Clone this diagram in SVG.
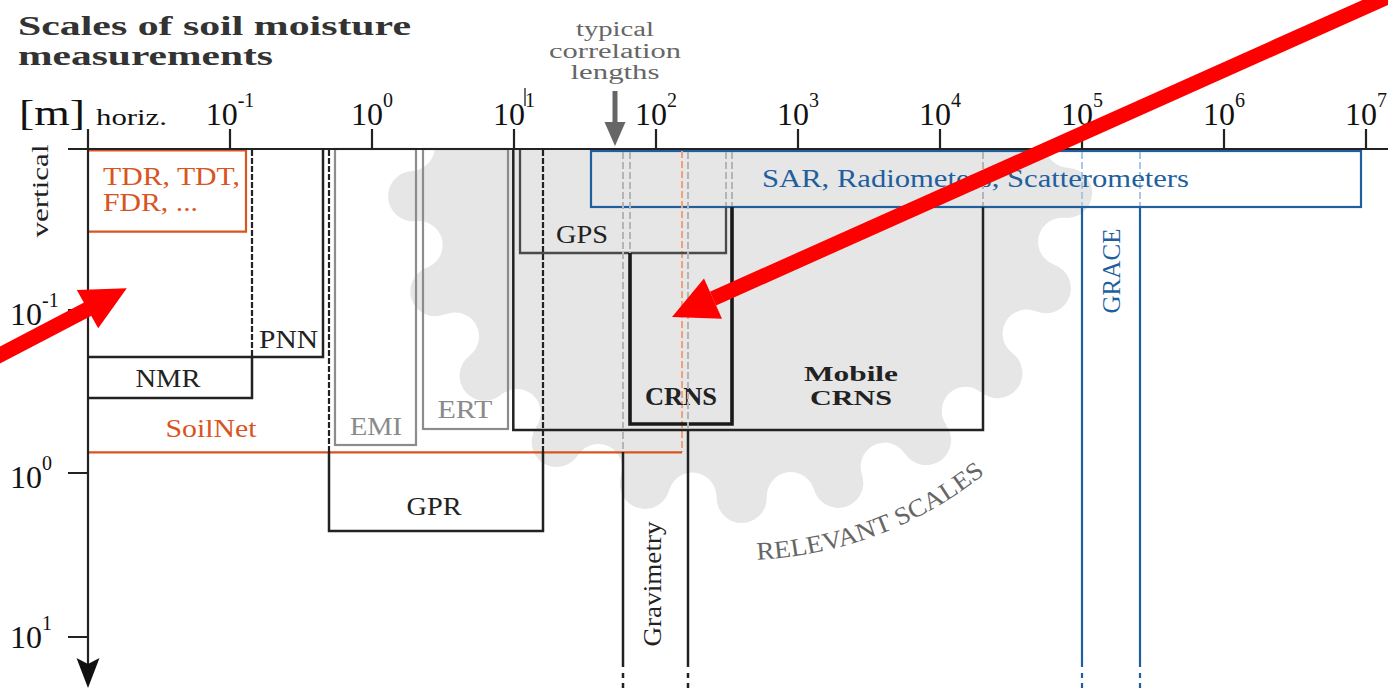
<svg xmlns="http://www.w3.org/2000/svg" width="1388" height="688" viewBox="0 0 1388 688">
<defs>
<style>
text{font-family:"Liberation Serif","Times New Roman",serif;}
.ax{stroke:#222;stroke-width:2.2;fill:none}
.bk{stroke:#222;stroke-width:2.5;fill:none}
.bkd{stroke:#222;stroke-width:2.2;fill:none;stroke-dasharray:6 2}
.th{stroke:#1a1a1a;stroke-width:3.6;fill:none}
.gb{stroke:#8c8c8c;stroke-width:2.2;fill:none}
.gps{stroke:#4a4a4a;stroke-width:2.3;fill:none}
.ld{stroke:#b4b4b4;stroke-width:2;fill:none;stroke-dasharray:7 3}
.ldo{stroke:#f2a07a;stroke-width:2;fill:none;stroke-dasharray:7 3}
.ldb{stroke:#a9c6e3;stroke-width:2;fill:none;stroke-dasharray:7 3}
.or{stroke:#d9541e;stroke-width:2.2;fill:none}
.bl{stroke:#1f5f9e;stroke-width:2.2;fill:none}
.t{font-size:25px;fill:#222}
.tbold{font-size:25px;fill:#222;font-weight:bold}
.tmob{font-size:21px;fill:#222;font-weight:bold}
.to{font-size:25px;fill:#d9541e}
.tg{font-size:25px;fill:#8a8a8a}
.tb{font-size:25px;fill:#1f5f9e}
.tick{font-size:32px;fill:#111}
.sup{font-size:20px}
.red{stroke:#ff0000;stroke-width:15;fill:none}
</style>
<clipPath id="clipBelowAxis"><rect x="0" y="150" width="1388" height="538"/></clipPath>
<circle id="lobe" cx="1068" cy="170" r="25"/>
<circle id="notch" cx="1070" cy="170" r="24"/>
<path id="arcText" d="M757,559.6 A390,390 0 0 0 1015.8,445.8" fill="none"/>
</defs>
<rect x="0" y="0" width="1388" height="688" fill="#fff"/>

<g id="relevant-scales" clip-path="url(#clipBelowAxis)" fill="#e6e6e6">
<circle cx="740" cy="170" r="328"/>
<use href="#lobe" transform="rotate(4 740 170)"/>
<use href="#lobe" transform="rotate(21.14 740 170)"/>
<use href="#lobe" transform="rotate(38.29 740 170)"/>
<use href="#lobe" transform="rotate(55.43 740 170)"/>
<use href="#lobe" transform="rotate(72.57 740 170)"/>
<use href="#lobe" transform="rotate(89.71 740 170)"/>
<use href="#lobe" transform="rotate(106.86 740 170)"/>
<use href="#lobe" transform="rotate(124 740 170)"/>
<use href="#lobe" transform="rotate(141.14 740 170)"/>
<use href="#lobe" transform="rotate(158.29 740 170)"/>
<use href="#lobe" transform="rotate(175.43 740 170)"/>
<g fill="#fff">
<use href="#notch" transform="rotate(-4.57 740 170)"/>
<use href="#notch" transform="rotate(12.57 740 170)"/>
<use href="#notch" transform="rotate(29.71 740 170)"/>
<use href="#notch" transform="rotate(46.86 740 170)"/>
<use href="#notch" transform="rotate(64 740 170)"/>
<use href="#notch" transform="rotate(81.14 740 170)"/>
<use href="#notch" transform="rotate(98.29 740 170)"/>
<use href="#notch" transform="rotate(115.43 740 170)"/>
<use href="#notch" transform="rotate(132.57 740 170)"/>
<use href="#notch" transform="rotate(149.71 740 170)"/>
<use href="#notch" transform="rotate(166.86 740 170)"/>
<use href="#notch" transform="rotate(184 740 170)"/>
</g>
</g>
<text id="relevant-scales-label" font-size="25" fill="#666"><textPath href="#arcText" textLength="248" lengthAdjust="spacingAndGlyphs">RELEVANT SCALES</textPath></text>

<g id="sar">
<rect class="bl" x="591" y="151" width="770" height="56"/>
<path class="ldb" d="M1082,152V206 M1140,152V206"/>
<text class="tb" x="762" y="187" textLength="427" lengthAdjust="spacingAndGlyphs">SAR, Radiometers, Scatterometers</text>
</g>

<g id="tdr">
<path class="or" d="M88,150.5H246V231.6H88"/>
<text class="to" x="103" y="185" textLength="137" lengthAdjust="spacingAndGlyphs">TDR, TDT,</text>
<text class="to" x="103" y="211" textLength="95" lengthAdjust="spacingAndGlyphs">FDR, ...</text>
</g>

<g id="pnn">
<path class="bkd" d="M252,150V357"/>
<path class="bk" d="M252,357H323V149"/>
<text class="t" x="288.5" y="348" text-anchor="middle" textLength="59" lengthAdjust="spacingAndGlyphs">PNN</text>
</g>

<g id="nmr">
<path class="bk" d="M88,357H252V398H88"/>
<text class="t" x="168" y="387" text-anchor="middle" textLength="65" lengthAdjust="spacingAndGlyphs">NMR</text>
</g>

<g id="soilnet">
<path class="ldo" d="M682,151V452"/>
<path class="or" d="M88,452.3H682"/>
<text class="to" x="211" y="437" text-anchor="middle" textLength="91" lengthAdjust="spacingAndGlyphs">SoilNet</text>
</g>

<g id="gpr">
<path class="bkd" d="M329,150V452 M543,150V452"/>
<path class="bk" d="M329,452V531H543V452"/>
<text class="t" x="434" y="515" text-anchor="middle" textLength="55" lengthAdjust="spacingAndGlyphs">GPR</text>
</g>

<g id="emi">
<rect class="gb" x="335" y="149" width="81" height="296"/>
<text class="tg" x="376" y="435" text-anchor="middle" textLength="52" lengthAdjust="spacingAndGlyphs">EMI</text>
</g>

<g id="ert">
<rect class="gb" x="423" y="149" width="85" height="280"/>
<text class="tg" x="465" y="418" text-anchor="middle" textLength="55" lengthAdjust="spacingAndGlyphs">ERT</text>
</g>

<g id="mobile-crns">
<path class="bk" d="M983,207V430H513.3V149"/>
<path class="ld" d="M983,152V206"/>
<text class="tmob" x="851" y="381" text-anchor="middle" textLength="94" lengthAdjust="spacingAndGlyphs">Mobile</text>
<text class="tmob" x="851" y="405" text-anchor="middle" textLength="82" lengthAdjust="spacingAndGlyphs">CRNS</text>
</g>

<g id="gps">
<path class="gps" d="M520,149V253H726V207"/>
<path class="ld" d="M726,152V206"/>
<text class="t" x="582" y="243" text-anchor="middle" textLength="52" lengthAdjust="spacingAndGlyphs">GPS</text>
</g>

<g id="crns">
<path class="ld" d="M630,152V253 M732,152V206"/>
<path class="th" d="M630,253V424H732V207"/>
<text class="tbold" x="681" y="405" text-anchor="middle" textLength="72" lengthAdjust="spacingAndGlyphs">CRNS</text>
</g>

<g id="gravimetry">
<path class="ld" d="M623,152V452 M688,152V430"/>
<path class="bk" d="M623,452V667 M688,430V667 M623,673V678 M623,683V688 M688,673V678 M688,683V688"/>
<text class="t" transform="translate(661,584) rotate(-90)" text-anchor="middle" textLength="125" lengthAdjust="spacingAndGlyphs">Gravimetry</text>
</g>

<g id="grace">
<path class="bl" d="M1082,207V667 M1140,207V667 M1082,673V678 M1082,683V688 M1140,673V678 M1140,683V688"/>
<text class="tb" transform="translate(1120,271) rotate(-90)" text-anchor="middle" textLength="85" lengthAdjust="spacingAndGlyphs">GRACE</text>
</g>

<g id="axes">
<line class="ax" x1="68" y1="149" x2="1388" y2="149"/>
<line class="ax" x1="88" y1="129" x2="88" y2="668"/>
<path d="M76.5,658 L88,664 L99.5,658 L88,688 Z" fill="#111"/>
<path class="ax" d="M230,129V149 M372,129V149 M514,129V149 M656,129V149 M798,129V149 M940,129V149 M1082,129V149 M1224,129V149 M1366,129V149 M68,310H88 M68,473H88 M68,637H88"/>
<line x1="525" y1="88" x2="525" y2="106" stroke="#222" stroke-width="1.3"/>
<text x="19" y="125" font-size="36" fill="#111" textLength="66" lengthAdjust="spacingAndGlyphs">[m]</text>
<text x="96" y="125" font-size="24" fill="#111" textLength="71" lengthAdjust="spacingAndGlyphs">horiz.</text>
<text transform="translate(48,191) rotate(-90)" text-anchor="middle" font-size="24" fill="#222" textLength="93" lengthAdjust="spacingAndGlyphs">vertical</text>
<text class="tick" x="230" y="125" text-anchor="middle">10<tspan class="sup" dy="-18">-1</tspan></text>
<text class="tick" x="372" y="125" text-anchor="middle">10<tspan class="sup" dy="-18">0</tspan></text>
<text class="tick" x="514" y="125" text-anchor="middle">10<tspan class="sup" dy="-18">1</tspan></text>
<text class="tick" x="656" y="125" text-anchor="middle">10<tspan class="sup" dy="-18">2</tspan></text>
<text class="tick" x="798" y="125" text-anchor="middle">10<tspan class="sup" dy="-18">3</tspan></text>
<text class="tick" x="940" y="125" text-anchor="middle">10<tspan class="sup" dy="-18">4</tspan></text>
<text class="tick" x="1082" y="125" text-anchor="middle">10<tspan class="sup" dy="-18">5</tspan></text>
<text class="tick" x="1224" y="125" text-anchor="middle">10<tspan class="sup" dy="-18">6</tspan></text>
<text class="tick" x="1366" y="125" text-anchor="middle">10<tspan class="sup" dy="-18">7</tspan></text>
<text class="tick" x="10" y="325">10<tspan class="sup" dy="-18">-1</tspan></text>
<text class="tick" x="10" y="488">10<tspan class="sup" dy="-18">0</tspan></text>
<text class="tick" x="10" y="648">10<tspan class="sup" dy="-18">1</tspan></text>
</g>

<g id="title">
<text x="18" y="35" font-size="28" font-weight="bold" fill="#333" textLength="393" lengthAdjust="spacingAndGlyphs">Scales of soil moisture</text>
<text x="18" y="65" font-size="28" font-weight="bold" fill="#333" textLength="255" lengthAdjust="spacingAndGlyphs">measurements</text>
</g>

<g id="correlation">
<text x="615" y="36" font-size="20" fill="#666" text-anchor="middle" textLength="78" lengthAdjust="spacingAndGlyphs">typical</text>
<text x="615" y="57.5" font-size="20" fill="#666" text-anchor="middle" textLength="132" lengthAdjust="spacingAndGlyphs">correlation</text>
<text x="615" y="79" font-size="20" fill="#666" text-anchor="middle" textLength="89" lengthAdjust="spacingAndGlyphs">lengths</text>
</g>

<g id="connectors">
<line x1="615" y1="91" x2="615" y2="124" stroke="#666" stroke-width="5"/>
<path d="M604.5,122 L625.5,122 L615,146 Z" fill="#666"/>
<path class="red" d="M-5,357.7 L88,309"/>
<path d="M126.8,288.3 L76.8,290 L98.2,328.3 Z" fill="#f00"/>
<path class="red" d="M1392,-5 L713,298.6"/>
<path d="M672,317 L722,318.7 L704,278.5 Z" fill="#f00"/>
</g>
</svg>
